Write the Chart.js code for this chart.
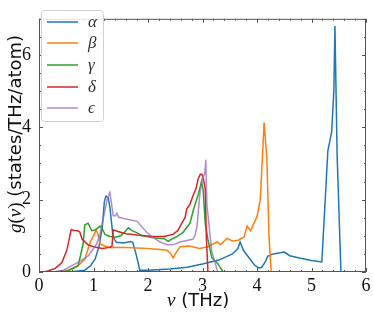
<!DOCTYPE html>
<html>
<head>
<meta charset="utf-8">
<script src="https://cdn.jsdelivr.net/npm/chart.js@4.4.0/dist/chart.umd.min.js"></script>
<style>
  html, body { margin: 0; padding: 0; background: #fff; }
  #wrap { width: 374px; height: 315px; }
</style>
</head>
<body>
<div id="wrap"><canvas id="dos"></canvas></div>
<script>
// phonon DOS, frequency in THz
var alphaNu = [0, 0.3, 0.6, 0.84, 0.95, 1.03, 1.1, 1.16, 1.2, 1.23, 1.27, 1.3, 1.36, 1.42, 1.55, 1.68, 1.72, 1.78, 1.85, 2.0, 2.4, 2.72, 3.0, 3.3, 3.55, 3.65, 3.69, 3.75, 3.85, 3.95, 4.02, 4.08, 4.14, 4.2, 4.3, 4.5, 4.6, 4.8, 5.0, 5.19, 5.3, 5.37, 5.41, 5.43, 5.47, 5.54, 5.6, 6.0];
var alphaG  = [0, 0, 0.01, 0.05, 0.18, 0.36, 0.7, 1.22, 1.95, 2.1, 2.05, 1.8, 0.96, 0.82, 0.8, 0.84, 0.82, 0.5, 0.05, 0.05, 0.08, 0.13, 0.22, 0.33, 0.5, 0.65, 0.83, 0.6, 0.4, 0.2, 0.12, 0.12, 0.25, 0.44, 0.5, 0.55, 0.45, 0.38, 0.32, 0.28, 3.35, 3.87, 5.0, 6.8, 3.25, 0, 0, 0];

var betaNu = [0, 0.35, 0.53, 0.7, 0.84, 0.94, 1.0, 1.05, 1.08, 1.12, 1.2, 1.3, 1.6, 1.9, 2.16, 2.35, 2.42, 2.46, 2.52, 2.59, 2.75, 2.95, 3.1, 3.2, 3.27, 3.33, 3.45, 3.55, 3.65, 3.76, 3.82, 3.88, 4.0, 4.06, 4.1, 4.13, 4.18, 4.22, 4.26, 4.7];
var betaG  = [0, 0, 0.05, 0.15, 0.35, 0.83, 1.0, 1.17, 1.05, 0.78, 0.72, 0.68, 0.68, 0.66, 0.63, 0.6, 0.5, 0.39, 0.55, 0.7, 0.72, 0.65, 0.7, 0.78, 0.83, 0.76, 0.93, 0.86, 0.88, 0.96, 1.27, 1.14, 1.53, 2.0, 3.2, 4.13, 3.17, 1.0, 0, 0];

var gammaNu = [0, 0.2, 0.53, 0.72, 0.81, 0.84, 0.9, 0.97, 1.03, 1.08, 1.12, 1.16, 1.21, 1.3, 1.4, 1.5, 1.58, 1.64, 1.7, 1.8, 1.9, 2.1, 2.3, 2.37, 2.45, 2.55, 2.64, 2.77, 2.83, 2.88, 2.92, 2.95, 2.98, 3.01, 3.05, 3.1, 3.17, 3.28, 3.38, 3.7];
var gammaG  = [0, 0, 0.03, 0.18, 0.78, 1.3, 1.35, 1.14, 1.16, 1.22, 1.27, 1.2, 1.04, 0.98, 0.96, 1.0, 1.12, 1.22, 1.15, 1.08, 1.0, 0.95, 0.92, 0.85, 0.92, 1.0, 1.09, 1.35, 1.7, 1.95, 2.13, 2.3, 2.5, 2.3, 1.35, 0.9, 0.4, 0.23, 0, 0];

var deltaNu = [0, 0.1, 0.3, 0.42, 0.51, 0.56, 0.59, 0.65, 0.71, 0.75, 0.79, 0.9, 1.0, 1.16, 1.3, 1.34, 1.36, 1.45, 1.6, 1.8, 2.04, 2.3, 2.46, 2.55, 2.62, 2.68, 2.71, 2.77, 2.83, 2.88, 2.92, 2.96, 2.99, 3.02, 3.05, 3.07, 3.1, 3.25];
var deltaG  = [0, 0, 0.1, 0.26, 0.6, 0.95, 1.17, 1.15, 1.14, 1.1, 0.91, 0.75, 0.7, 0.65, 0.68, 0.72, 1.17, 1.12, 1.06, 1.02, 0.99, 0.98, 1.04, 1.15, 1.35, 1.5, 1.74, 1.87, 2.13, 2.3, 2.57, 2.7, 2.7, 2.55, 2.3, 1.0, 0, 0];

var epsNu = [0, 0.25, 0.45, 0.7, 0.9, 1.06, 1.12, 1.18, 1.25, 1.3, 1.33, 1.36, 1.4, 1.43, 1.46, 1.55, 1.8, 1.98, 2.1, 2.22, 2.35, 2.45, 2.59, 2.83, 2.87, 2.9, 2.95, 3.0, 3.04, 3.06, 3.08, 3.17, 3.28, 3.5];
var epsG  = [0, 0, 0.05, 0.25, 0.44, 0.78, 1.05, 1.48, 2.0, 2.2, 1.9, 1.56, 1.55, 1.62, 1.52, 1.48, 1.4, 1.09, 0.95, 0.83, 0.75, 0.75, 0.83, 0.91, 1.05, 1.27, 2.13, 2.6, 2.7, 3.1, 1.87, 0.57, 0, 0];

var seriesNames = ["α", "β", "γ", "δ", "ϵ"];
var xTicks = [0, 1, 2, 3, 4, 5, 6];
var yTicks = [0, 2, 4, 6];

var colors = ["#1f77b4", "#ff7f0e", "#2ca02c", "#d62728", "rgba(148,103,189,0.75)"];
var spine = "#555";
var serif = '"Liberation Serif", "DejaVu Serif", serif';
var sans = '"DejaVu Sans", sans-serif';

function pts(xs, ys) {
  return xs.map(function(x, i){ return {x: x, y: ys[i]}; });
}
var allData = [pts(alphaNu, alphaG), pts(betaNu, betaG), pts(gammaNu, gammaG), pts(deltaNu, deltaG), pts(epsNu, epsG)];

var datasets = allData.map(function(d, i){
  return {
    label: seriesNames[i],
    data: d,
    borderColor: colors[i],
    backgroundColor: colors[i],
    borderWidth: 1.5,
    pointRadius: 0,
    tension: 0,
    fill: false,
    order: 4 - i
  };
});

// draw a run of text pieces with different fonts
function drawRun(ctx, parts, x, y) {
  var cx = x;
  parts.forEach(function(p){
    ctx.font = p.f;
    ctx.fillText(p.t, cx, y);
    cx += ctx.measureText(p.t).width;
  });
}

var framePlugin = {
  id: "frame",
  afterDraw: function(chart) {
    var ctx = chart.ctx, a = chart.chartArea;
    var xs = chart.scales.x, ys = chart.scales.y;
    ctx.save();
    ctx.strokeStyle = spine;
    ctx.lineWidth = 1;
    ctx.strokeRect(a.left + 0.5, a.top + 0.5, a.right - a.left - 1, a.bottom - a.top - 1);
    ctx.beginPath();
    // x ticks, inward on bottom and top
    for (var v = 0; v <= 6.001; v += 0.2) {
      var px = Math.round(xs.getPixelForValue(v)) + 0.5;
      var major = Math.abs(v - Math.round(v)) < 1e-6;
      var len = major ? 4 : 2;
      ctx.moveTo(px, a.bottom); ctx.lineTo(px, a.bottom - len);
      ctx.moveTo(px, a.top); ctx.lineTo(px, a.top + len);
    }
    for (var w = 0; w <= 7.001; w += 0.5) {
      var py = Math.round(ys.getPixelForValue(w)) + 0.5;
      var maj = Math.abs(w / 2 - Math.round(w / 2)) < 1e-6;
      var l2 = maj ? 4 : 2;
      ctx.moveTo(a.left, py); ctx.lineTo(a.left + l2, py);
      ctx.moveTo(a.right, py); ctx.lineTo(a.right - l2, py);
    }
    ctx.stroke();

    // legend box
    ctx.fillStyle = "rgba(255,255,255,0.85)";
    ctx.strokeStyle = "#d0d0d0";
    ctx.beginPath();
    ctx.roundRect(41.5, 10.5, 62, 111, 3);
    ctx.fill(); ctx.stroke();
    var ly = [22, 43, 65, 87, 108];
    seriesNames.forEach(function(n, i){
      ctx.strokeStyle = colors[i];
      ctx.lineWidth = 1.5;
      ctx.beginPath();
      ctx.moveTo(47, ly[i]); ctx.lineTo(78, ly[i]);
      ctx.stroke();
      ctx.fillStyle = "#333";
      ctx.font = "italic 17px " + serif;
      ctx.textBaseline = "middle";
      ctx.fillText(n, 88, ly[i] + 1);
    });

    // axis titles
    ctx.fillStyle = "#111";
    ctx.textBaseline = "alphabetic";
    drawRun(ctx, [
      {t: "ν", f: "italic 19px " + serif},
      {t: " (THz)", f: "18px " + sans}
    ], 167, 306);
    ctx.translate(21, 233);
    ctx.rotate(-Math.PI / 2);
    drawRun(ctx, [
      {t: "g", f: "italic 19px " + serif},
      {t: "(", f: "19px " + serif},
      {t: "ν", f: "italic 19px " + serif},
      {t: ")", f: "19px " + serif},
      {t: " (states/THz/atom)", f: "18px " + sans}
    ], 0, 0);
    ctx.restore();
  }
};

new Chart(document.getElementById("dos"), {
  type: "line",
  data: { datasets: datasets },
  options: {
    responsive: true,
    maintainAspectRatio: false,
    animation: false,
    layout: { padding: { top: 3, right: 8, left: 0, bottom: 0 } },
    plugins: { legend: { display: false }, tooltip: { enabled: false } },
    scales: {
      x: {
        type: "linear",
        min: 0, max: 6,
        afterFit: function(s){ s.height = 43; },
        afterBuildTicks: function(s){ s.ticks = xTicks.map(function(v){ return {value: v}; }); },
        grid: { display: false, drawTicks: false },
        border: { display: false },
        ticks: { color: "#111", padding: 3, maxRotation: 0, font: { family: serif, size: 18 } }
      },
      y: {
        type: "linear",
        min: 0, max: 7,
        afterFit: function(s){ s.width = 39; },
        afterBuildTicks: function(s){ s.ticks = yTicks.map(function(v){ return {value: v}; }); },
        grid: { display: false, drawTicks: false },
        border: { display: false },
        ticks: { color: "#111", padding: 8, font: { family: serif, size: 18 } }
      }
    }
  },
  plugins: [framePlugin]
});
</script>
</body>
</html>
